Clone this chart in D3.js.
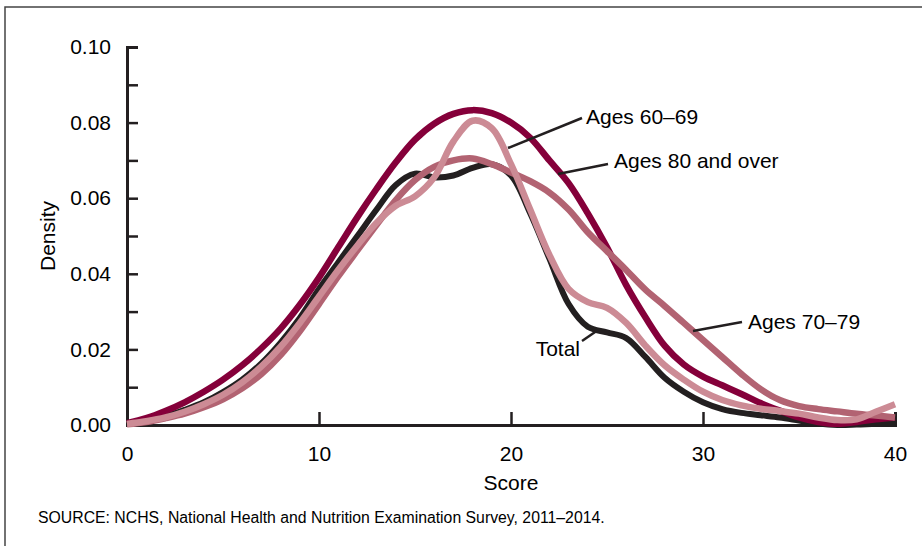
<!DOCTYPE html>
<html>
<head>
<meta charset="utf-8">
<style>
  body { margin: 0; background: #fff; }
  svg { display: block; font-family: "Liberation Sans", Arial, sans-serif; }
</style>
</head>
<body>
<svg width="922" height="546"></svg>
<script src="https://d3js.org/d3.v7.min.js"></script>
<script>

// scores 0..40, one density value per integer score
var scores = d3.range(0, 41);

var total = [0.0003, 0.001, 0.0023, 0.004, 0.006, 0.0087, 0.012, 0.0163, 0.0218, 0.0283,
  0.036, 0.043, 0.050, 0.057, 0.0635, 0.0665, 0.0655, 0.066, 0.068, 0.069,
  0.066, 0.056, 0.044, 0.032, 0.026, 0.0245, 0.023, 0.018, 0.0125, 0.0088,
  0.006, 0.0042, 0.0032, 0.0026, 0.002, 0.0012, 0.0004, 0, 0.0001, 0.0003, 0.0004];

var ages6069 = [0.0003, 0.001, 0.002, 0.0035, 0.0055, 0.008, 0.0113, 0.0155, 0.0207, 0.027,
  0.034, 0.041, 0.0475, 0.0535, 0.058, 0.0605, 0.0655, 0.075, 0.0805, 0.0785,
  0.069, 0.057, 0.045, 0.036, 0.0325, 0.031, 0.027, 0.021, 0.0158, 0.012,
  0.0088, 0.0066, 0.0052, 0.0043, 0.0037, 0.003, 0.002, 0.0013, 0.0015, 0.0035, 0.0055];

var ages7079 = [0.0002, 0.0008, 0.0018, 0.003, 0.0047, 0.0068, 0.0097, 0.0135, 0.0185, 0.0248,
  0.032, 0.0393, 0.0462, 0.053, 0.0595, 0.0648, 0.0683, 0.070, 0.0705, 0.069,
  0.0668, 0.0645, 0.0615, 0.057, 0.051, 0.046, 0.041, 0.0358, 0.0315, 0.027,
  0.0225, 0.018, 0.0135, 0.0095, 0.0066, 0.005, 0.0042, 0.0036, 0.003, 0.0025, 0.002];

var ages80 = [0.0005, 0.0018, 0.0037, 0.006, 0.0088, 0.012, 0.0158, 0.0203, 0.0255, 0.0318,
  0.039, 0.047, 0.055, 0.0625, 0.0695, 0.0755, 0.0797, 0.0823, 0.0833, 0.0825,
  0.080, 0.076, 0.070, 0.064, 0.056, 0.047, 0.037, 0.0285, 0.021, 0.016,
  0.0128, 0.0105, 0.0082, 0.0058, 0.0038, 0.002, 0.0008, 0.0003, 0.0008, 0.0015, 0.002];

var yMajor = [0, 0.02, 0.04, 0.06, 0.08, 0.10];
var yMinor = [0.01, 0.03, 0.05, 0.07, 0.09];
var xTicks = [0, 10, 20, 30, 40];

// drawn back to front
var series = [
  {name: "Total", values: total, color: "#231f20", width: 6},
  {name: "Ages 80 and over", values: ages80, color: "#85003a", width: 6.5},
  {name: "Ages 70-79", values: ages7079, color: "#b26372", width: 6.5},
  {name: "Ages 60-69", values: ages6069, color: "#cc8b95", width: 6.5}
];

var svg = d3.select("svg");
var ink = "#231f20";

// frame (top and left only)
svg.append("path")
    .attr("d", "M5,546V7H922")
    .attr("fill", "none")
    .attr("stroke", "#444")
    .attr("stroke-width", 1.5);

var x = d3.scaleLinear().domain([0, 40]).range([127, 895]);
var y = d3.scaleLinear().domain([0, 0.10]).range([425, 47]);

svg.append("g")
    .attr("transform", "translate(127,0)")
    .call(d3.axisLeft(y).tickValues(yMajor).tickFormat(d3.format(".2f"))
      .tickSize(-11).tickPadding(16));

svg.append("g")
    .attr("transform", "translate(127,0)")
    .call(d3.axisLeft(y).tickValues(yMinor).tickFormat("").tickSize(-11))
    .select(".domain").remove();

var xAxis = svg.append("g")
    .attr("transform", "translate(0,425)")
    .call(d3.axisBottom(x).tickValues(xTicks).tickSize(-13).tickPadding(21));

svg.selectAll(".tick line").attr("stroke", ink).attr("stroke-width", 2.5);
svg.selectAll(".domain").attr("stroke", ink).attr("stroke-width", 3);
svg.selectAll(".tick text").attr("fill", "#000").style("font-size", "21px")
    .style("font-family", "'Liberation Sans', Arial, sans-serif");

// no tick at 0 on x (it sits on the y axis)
xAxis.selectAll(".tick line").filter(function(d) { return d === 0; }).remove();

var line = d3.line()
    .x(function(d, i) { return x(scores[i]); })
    .y(function(d) { return y(d); })
    .curve(d3.curveCatmullRom.alpha(0.5));

svg.append("g").selectAll("path")
  .data(series)
  .enter().append("path")
    .attr("d", function(s) { return line(s.values); })
    .attr("fill", "none")
    .attr("stroke", function(s) { return s.color; })
    .attr("stroke-width", function(s) { return s.width; })
    .attr("stroke-linecap", "butt");

// axis titles
svg.append("text")
    .attr("x", 511).attr("y", 490)
    .attr("text-anchor", "middle")
    .style("font-size", "21px")
    .text("Score");

svg.append("text")
    .attr("transform", "translate(55,236) rotate(-90)")
    .attr("text-anchor", "middle")
    .style("font-size", "21px")
    .text("Density");

// annotations: leader line + label
var notes = [
  {text: "Ages 60\u201369", x1: 508, y1: 148, x2: 582, y2: 118, tx: 586, ty: 124},
  {text: "Ages 80 and over", x1: 558, y1: 174, x2: 608, y2: 164, tx: 614, ty: 168},
  {text: "Ages 70\u201379", x1: 693, y1: 331, x2: 742, y2: 322, tx: 748, ty: 329},
  {text: "Total", x1: 598, y1: 330, x2: 582, y2: 341, tx: 580, ty: 356, anchor: "end"}
];

var note = svg.append("g").selectAll("g").data(notes).enter().append("g");
note.append("line")
    .attr("x1", function(d) { return d.x1; }).attr("y1", function(d) { return d.y1; })
    .attr("x2", function(d) { return d.x2; }).attr("y2", function(d) { return d.y2; })
    .attr("stroke", ink).attr("stroke-width", 2.5);
note.append("text")
    .attr("x", function(d) { return d.tx; }).attr("y", function(d) { return d.ty; })
    .attr("text-anchor", function(d) { return d.anchor || "start"; })
    .style("font-size", "21px")
    .text(function(d) { return d.text; });

svg.append("text")
    .attr("x", 38).attr("y", 523)
    .style("font-size", "15.8px")
    .text("SOURCE: NCHS, National Health and Nutrition Examination Survey, 2011\u20132014.");

</script>
</body>
</html>
